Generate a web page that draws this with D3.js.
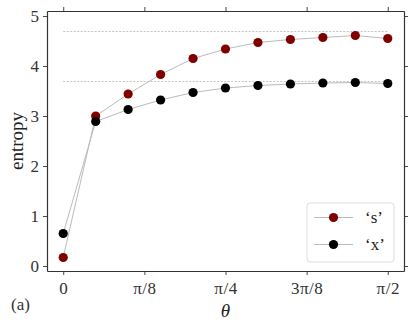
<!DOCTYPE html>
<html>
<head>
<meta charset="utf-8">
<script src="https://cdn.jsdelivr.net/npm/d3@7"></script>
<style>
  body { margin: 0; background: #fff; }
</style>
</head>
<body>
<div id="chart-area"></div>
<script>
// theta in units of pi/20
var steps = [0, 1, 2, 3, 4, 5, 6, 7, 8, 9, 10];
var sVals = [0.17, 3.00, 3.44, 3.83, 4.15, 4.34, 4.47, 4.53, 4.57, 4.61, 4.55];
var xVals = [0.65, 2.89, 3.13, 3.32, 3.47, 3.56, 3.61, 3.64, 3.66, 3.67, 3.65];
var refLines = [4.69, 3.69];
var xTicks = [0, 1, 2, 3, 4];   // multiples of pi/8
var xTickLabels = ["0", "\u03c0/8", "\u03c0/4", "3\u03c0/8", "\u03c0/2"];
var yTicks = [0, 1, 2, 3, 4, 5];
var seriesNames = ["\u2018s\u2019", "\u2018x\u2019"];

var W = 415, H = 329;
var mLeft = 47, mRight = 404, mTop = 11, mBottom = 271;
var FONT = "'Liberation Serif', 'DejaVu Serif', serif";

var svg = d3.select("#chart-area")
    .append("svg")
    .attr("width", W)
    .attr("height", H);

var x = d3.scaleLinear()
    .domain([-0.05 * Math.PI / 2, Math.PI / 2 * 1.05])
    .range([mLeft, mRight]);

var y = d3.scaleLinear()
    .domain([-0.1, 5.1])
    .range([mBottom, mTop]);

var theta = (i) => { return i * Math.PI / 20; };

// reference dashed lines
svg.selectAll(".ref").data(refLines).enter()
    .append("line")
        .attr("x1", x(0))
        .attr("x2", x(Math.PI / 2))
        .attr("y1", (d) => { return y(d); })
        .attr("y2", (d) => { return y(d); })
        .attr("stroke", "#aaa")
        .attr("stroke-width", 0.7)
        .attr("stroke-dasharray", "2,1.5");

var line = d3.line()
    .x((d, i) => { return x(theta(steps[i])); })
    .y((d) => { return y(d); });

var series = [
    { name: seriesNames[0], vals: sVals, color: "#800000" },
    { name: seriesNames[1], vals: xVals, color: "#000000" }
];

series.forEach((s) => {
    svg.append("path")
        .attr("d", line(s.vals))
        .attr("fill", "none")
        .attr("stroke", "#bbb")
        .attr("stroke-width", 1);
});
series.forEach((s) => {
    svg.selectAll(null).data(s.vals).enter()
        .append("circle")
            .attr("cx", (d, i) => { return x(theta(steps[i])); })
            .attr("cy", (d) => { return y(d); })
            .attr("r", 4.6)
            .attr("fill", s.color);
});

// axes
var xAxisB = d3.axisBottom(x)
    .tickValues(xTicks.map((t) => { return t * Math.PI / 8; }))
    .tickFormat((d, i) => { return xTickLabels[i]; })
    .tickSize(4).tickSizeOuter(0).tickPadding(7);
var xAxisT = d3.axisTop(x)
    .tickValues(xTicks.map((t) => { return t * Math.PI / 8; }))
    .tickFormat("")
    .tickSize(4).tickSizeOuter(0);
var yAxisL = d3.axisLeft(y)
    .tickValues(yTicks)
    .tickFormat(d3.format("d"))
    .tickSize(4).tickSizeOuter(0).tickPadding(4);
var yAxisR = d3.axisRight(y)
    .tickValues(yTicks)
    .tickFormat("")
    .tickSize(4).tickSizeOuter(0);

var gB = svg.append("g").attr("transform", "translate(0," + mBottom + ")").call(xAxisB);
var gT = svg.append("g").attr("transform", "translate(0," + mTop + ")").call(xAxisT);
var gL = svg.append("g").attr("transform", "translate(" + mLeft + ",0)").call(yAxisL);
var gR = svg.append("g").attr("transform", "translate(" + mRight + ",0)").call(yAxisR);

[gB, gT, gL, gR].forEach((g) => {
    g.select(".domain").attr("stroke", "#333").attr("stroke-width", 1.2);
    g.selectAll(".tick line").attr("stroke", "#333").attr("stroke-width", 0.9);
    g.selectAll(".tick text")
        .style("font-family", FONT)
        .style("font-size", "17px")
        .attr("fill", "#333");
});
gB.selectAll(".tick text").style("letter-spacing", "0.5px");

// axis labels
svg.append("text")
    .attr("transform", "translate(23," + ((mTop + mBottom) / 2) + ") rotate(-90)")
    .attr("text-anchor", "middle")
    .style("font-family", FONT)
    .style("font-size", "19px")
    .attr("fill", "#222")
    .text("entropy");

svg.append("text")
    .attr("x", x(Math.PI / 4))
    .attr("y", 317)
    .attr("text-anchor", "middle")
    .style("font-family", FONT)
    .style("font-size", "19px")
    .style("font-style", "italic")
    .attr("fill", "#222")
    .text("\u03b8");

svg.append("text")
    .attr("x", 11)
    .attr("y", 310)
    .style("font-family", FONT)
    .style("font-size", "17px")
    .attr("fill", "#333")
    .text("(a)");

// legend
var lg = svg.append("g").attr("transform", "translate(307,203)");
lg.append("rect")
    .attr("width", 87)
    .attr("height", 59)
    .attr("rx", 3)
    .attr("fill", "#fff")
    .attr("fill-opacity", 0.8)
    .attr("stroke", "#ddd")
    .attr("stroke-width", 1);

series.forEach((s, i) => {
    var yy = 14.5 + i * 27;
    lg.append("line")
        .attr("x1", 7).attr("x2", 46)
        .attr("y1", yy).attr("y2", yy)
        .attr("stroke", "#bbb")
        .attr("stroke-width", 1);
    lg.append("circle")
        .attr("cx", 26.5).attr("cy", yy)
        .attr("r", 4.6)
        .attr("fill", s.color);
    lg.append("text")
        .attr("x", 58)
        .attr("y", yy + 5)
        .style("font-family", FONT)
        .style("font-size", "17px")
        .attr("fill", "#222")
        .text(s.name);
});
</script>
</body>
</html>
